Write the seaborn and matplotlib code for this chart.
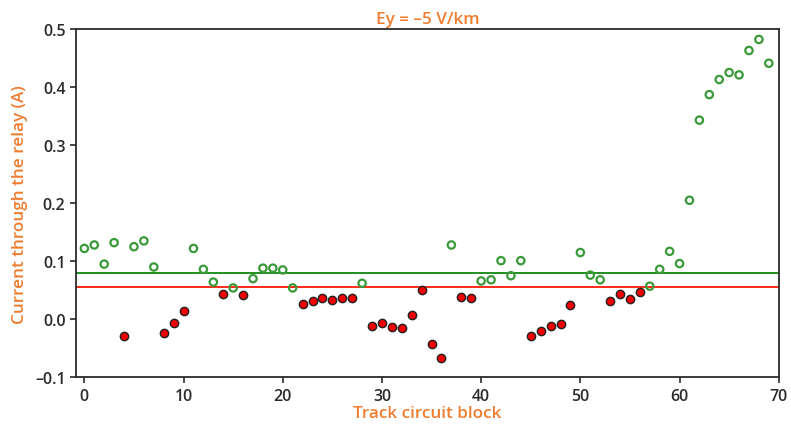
import matplotlib
matplotlib.use("Agg")
import matplotlib.pyplot as plt
import seaborn as sns
import pandas as pd

# Relay current per track circuit block for a uniform field Ey = -5 V/km
blocks = list(range(70))
current = [
    0.122, 0.128, 0.095, 0.132, -0.028, 0.125, 0.135, 0.090, -0.023, -0.006,
    0.015, 0.122, 0.086, 0.064, 0.043, 0.054, 0.042, 0.070, 0.088, 0.088,
    0.085, 0.054, 0.027, 0.032, 0.037, 0.033, 0.036, 0.036, 0.062, -0.012,
    -0.007, -0.014, -0.015, 0.007, 0.051, -0.043, -0.066, 0.128, 0.039, 0.036,
    0.066, 0.068, 0.101, 0.075, 0.101, -0.029, -0.020, -0.011, -0.008, 0.025,
    0.115, 0.076, 0.068, 0.032, 0.043, 0.035, 0.047, 0.057, 0.086, 0.117,
    0.096, 0.205, 0.343, 0.387, 0.413, 0.425, 0.421, 0.463, 0.482, 0.441,
]
# Blocks whose relay has dropped out (drawn as filled red markers)
dropped_blocks = [4, 8, 9, 10, 14, 16, 22, 23, 24, 25, 26, 27, 29, 30, 31, 32,
                  33, 34, 35, 36, 38, 39, 45, 46, 47, 48, 49, 53, 54, 55, 56]
pickup_level = 0.079
dropout_level = 0.055

title = "Ey = \u20135 V/km"
xlabel = "Track circuit block"
ylabel = "Current through the relay (A)"
xticks = [0, 10, 20, 30, 40, 50, 60, 70]
yticks = [-0.1, 0.0, 0.1, 0.2, 0.3, 0.4, 0.5]

df = pd.DataFrame({"block": blocks, "current": current})
df["dropped"] = df["block"].isin(dropped_blocks)

sns.set_theme(style="white")
plt.rcParams["font.family"] = ["Open Sans", "DejaVu Sans"]

orange = "#EE7D2F"
ink = "#2b2b2b"

fig = plt.figure(figsize=(7.91, 4.27), dpi=100)
ax = fig.add_axes([0.0961, 0.1140, 0.8884, 0.8157])

ax.axhline(pickup_level, color="#1f8f1f", lw=1.4, zorder=1)
ax.axhline(dropout_level, color="#ff2a1a", lw=1.4, zorder=1)

sns.scatterplot(data=df[~df["dropped"]], x="block", y="current", ax=ax,
                marker="o", s=28, facecolor="none", edgecolor="#3a9a3a",
                linewidth=1.6, zorder=3)
sns.scatterplot(data=df[df["dropped"]], x="block", y="current", ax=ax,
                marker="o", s=36, color="#ee0000", edgecolor="#222222",
                linewidth=1.0, zorder=3)

ax.set_xlim(-0.84, 70)
ax.set_ylim(-0.1, 0.5)
ax.set_xticks(xticks)
ax.set_yticks(yticks)
ax.set_yticklabels(["\u20130.1" if v < 0 else f"{v:.1f}" for v in yticks])

for side in ["left", "right", "top", "bottom"]:
    ax.spines[side].set_color(ink)
    ax.spines[side].set_linewidth(1.3)
ax.tick_params(axis="both", which="major", direction="out", length=4,
               width=1.2, color=ink, labelcolor=ink, labelsize=11.5,
               bottom=True, left=True)
for lab in ax.get_xticklabels() + ax.get_yticklabels():
    lab.set_fontweight("semibold")

ax.set_title(title, color=orange, fontsize=12.3, fontweight="semibold", pad=4)
ax.set_xlabel(xlabel, color=orange, fontsize=12.3, fontweight="semibold", labelpad=1)
ax.set_ylabel(ylabel, color=orange, fontsize=12.3, fontweight="semibold", labelpad=5)

fig.savefig("out.png", dpi=100)
